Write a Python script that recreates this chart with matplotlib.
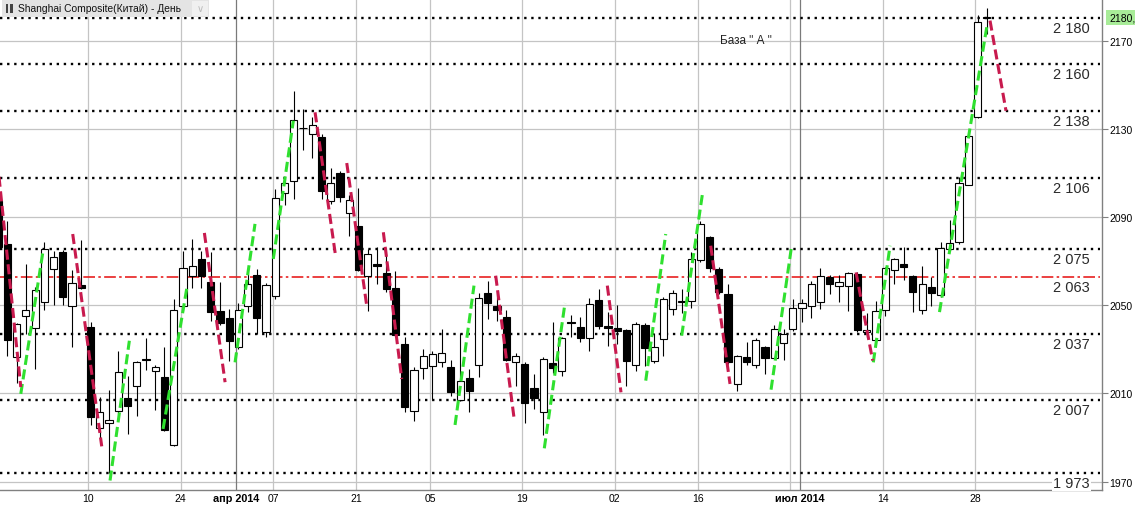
import matplotlib
matplotlib.use('Agg')
import matplotlib.pyplot as plt
from matplotlib.patches import Rectangle

plt.rcParams['font.family'] = ['Liberation Sans', 'DejaVu Sans']

# ---------------- data ----------------
opens = [2097.4, 2077.8, 2026.4, 2045.3, 2039.6, 2051.4, 2066.5, 2074.0, 2049.8, 2059.3,
         2040.2, 1994.2, 1996.5, 2002.2, 2007.8, 2013.3, 2025.3, 2020.3, 2017.3, 1986.8,
         2049.5, 2063.1, 2071.0, 2060.7, 2047.3, 2044.2, 2030.9, 2049.5, 2063.7, 2037.8,
         2054.4, 2100.8, 2106.2, 2130.5, 2127.7, 2126.2, 2097.4, 2109.9, 2091.7, 2085.8,
         2063.1, 2068.7, 2064.5, 2057.7, 2032.5, 2002.2, 2021.4, 2022.3, 2024.4, 2021.9,
         2007.2, 2016.9, 2023.1, 2055.4, 2049.5, 2044.6, 2024.2, 2023.4, 2012.5, 2001.5,
         2024.0, 2020.3, 2042.2, 2040.0, 2035.0, 2052.4, 2040.8, 2039.7, 2038.8, 2022.9,
         2041.2, 2024.9, 2034.6, 2048.3, 2051.5, 2051.8, 2070.7, 2080.8, 2066.5, 2055.1,
         2014.2, 2026.4, 2022.9, 2030.9, 2025.9, 2032.9, 2039.0, 2048.6, 2049.8, 2051.6,
         2062.7, 2058.6, 2058.6, 2064.2, 2037.8, 2034.4, 2048.0, 2066.2, 2068.7, 2063.1,
         2047.7, 2058.2, 2054.7, 2075.5, 2078.6, 2104.7, 2135.3, 2180.8]
highs = [2100.0, 2088.4, 2042.0, 2068.7, 2058.3, 2078.8, 2074.8, 2075.2, 2066.0, 2079.6,
         2042.6, 2008.4, 2011.7, 2029.4, 2018.1, 2024.9, 2035.0, 2022.9, 2030.9, 2052.8,
         2074.5, 2080.1, 2074.5, 2074.0, 2060.4, 2048.3, 2050.9, 2064.0, 2066.5, 2060.0,
         2102.7, 2107.7, 2147.0, 2139.0, 2135.3, 2127.7, 2112.3, 2111.0, 2100.0, 2103.1,
         2075.5, 2076.3, 2075.8, 2065.7, 2035.5, 2022.0, 2030.2, 2029.4, 2039.3, 2025.3,
         2037.4, 2021.1, 2055.6, 2061.2, 2056.6, 2047.9, 2028.4, 2024.3, 2018.8, 2026.5,
         2042.6, 2035.6, 2045.6, 2044.6, 2053.3, 2057.4, 2047.1, 2050.1, 2039.3, 2042.4,
         2042.0, 2037.3, 2053.7, 2056.9, 2057.4, 2074.0, 2088.0, 2081.4, 2067.5, 2059.5,
         2027.5, 2033.2, 2035.0, 2031.5, 2041.1, 2039.0, 2052.8, 2052.8, 2061.2, 2066.9,
         2063.7, 2063.7, 2065.2, 2065.0, 2046.4, 2052.1, 2067.5, 2071.6, 2076.3, 2063.7,
         2068.0, 2062.7, 2078.6, 2088.8, 2108.0, 2127.2, 2181.6, 2184.7]
lows = [2072.0, 2027.1, 2014.6, 2037.0, 2021.1, 2048.0, 2050.1, 2050.1, 2031.2, 2057.4,
        1995.7, 1990.0, 1974.0, 2000.7, 1991.6, 1999.6, 2020.8, 2002.7, 1993.0, 1986.0,
        2048.0, 2057.7, 2057.8, 2043.0, 2041.0, 2024.9, 2030.0, 2046.8, 2037.0, 2035.5,
        2052.9, 2095.5, 2098.2, 2120.6, 2116.9, 2098.2, 2096.0, 2096.7, 2081.6, 2065.5,
        2047.6, 2059.6, 2056.2, 2036.0, 2001.5, 1997.7, 2016.6, 2007.5, 2021.9, 2009.0,
        2006.6, 2001.5, 2017.3, 2043.8, 2043.0, 2024.7, 2013.3, 1996.5, 2003.0, 1991.3,
        2019.2, 2018.1, 2035.5, 2033.5, 2029.4, 2039.3, 2031.7, 2032.5, 2013.3, 2020.3,
        2022.6, 2023.7, 2026.9, 2045.7, 2046.4, 2048.8, 2069.5, 2065.0, 2055.0, 2023.4,
        2011.0, 2023.0, 2021.7, 2018.8, 2025.5, 2025.3, 2038.3, 2042.6, 2044.4, 2048.3,
        2055.1, 2051.4, 2047.6, 2037.8, 2035.5, 2033.8, 2045.3, 2059.7, 2061.6, 2046.8,
        2046.0, 2049.8, 2053.8, 2074.6, 2077.8, 2104.5, 2134.9, 2173.0]
closes = [2076.4, 2034.4, 2041.5, 2047.7, 2056.8, 2075.5, 2071.8, 2053.6, 2060.0, 2057.8,
          1999.5, 2001.5, 1998.0, 2019.6, 2004.5, 2024.1, 2025.8, 2021.9, 1993.6, 2047.9,
          2066.9, 2067.7, 2063.4, 2046.8, 2041.8, 2033.7, 2047.9, 2059.7, 2044.1, 2059.2,
          2098.7, 2105.3, 2134.2, 2130.2, 2131.8, 2101.7, 2105.3, 2099.0, 2097.9, 2066.1,
          2073.1, 2067.7, 2057.4, 2036.7, 2003.7, 2020.7, 2026.9, 2027.9, 2028.4, 2010.5,
          2015.5, 2011.3, 2053.2, 2050.9, 2048.0, 2025.3, 2026.9, 2005.6, 2007.9, 2025.5,
          2021.4, 2035.0, 2041.8, 2035.0, 2050.4, 2040.8, 2039.6, 2038.5, 2024.9, 2041.5,
          2030.5, 2030.9, 2052.8, 2055.4, 2052.0, 2070.8, 2086.7, 2066.8, 2055.9, 2024.2,
          2026.9, 2024.4, 2034.1, 2025.9, 2039.1, 2036.8, 2048.6, 2050.9, 2059.5, 2063.4,
          2059.5, 2060.4, 2064.6, 2038.8, 2038.8, 2047.3, 2067.1, 2071.0, 2067.5, 2055.9,
          2059.5, 2055.4, 2076.0, 2078.4, 2105.3, 2126.6, 2178.3, 2180.4]

# analyst trend segments: (start index, start value, end index, end value)
up_lines = [(2.45, 2009.8, 4.89, 2075.5), (12.11, 1970.5, 14.20, 2033.9),
            (17.85, 1993.9, 20.44, 2058.3), (25.64, 2024.1, 27.80, 2086.9),
            (29.78, 2071.0, 31.95, 2133.7), (49.45, 1995.7, 51.50, 2058.9),
            (59.11, 1985.1, 61.35, 2051.0), (70.09, 2015.8, 72.25, 2082.3),
            (73.98, 2036.2, 76.26, 2101.5), (83.65, 2011.7, 85.89, 2077.3),
            (94.72, 2024.1, 96.53, 2077.0), (101.88, 2046.9, 107.02, 2176.7)]
down_lines = [(0.0, 2112.0, 2.45, 2012.9), (8.07, 2082.3, 11.21, 1986.0),
              (22.32, 2082.8, 24.56, 2015.1), (34.30, 2137.5, 36.54, 2071.8),
              (37.73, 2114.5, 39.89, 2049.8), (41.69, 2083.1, 43.68, 2016.6),
              (53.85, 2063.4, 55.87, 1997.7), (65.93, 2058.9, 67.41, 2010.5),
              (77.12, 2077.0, 79.21, 2014.3), (92.85, 2064.9, 94.65, 2024.9),
              (107.35, 2179.1, 109.08, 2138.2)]

level_values = [2180.5, 2159.5, 2138.0, 2107.5, 2075.5, 2037.0, 2006.8, 1973.8]
level_labels = ["2 180", "2 160", "2 138", "2 106", "2 075", "2 037", "2 007", "1 973"]
pivot_value = 2062.7
pivot_label = "2 063"

tick_candles = [10, 20, 26, 30, 39, 47, 57, 67, 76, 86, 87, 96, 106]
tick_labels = ["10", "24", "апр 2014", "07", "21", "05", "19", "02", "16", "", "июл 2014", "14", "28"]
month_flags = [False, False, True, False, False, False, False, False, False, False, True, False, False]

y_ticks = [1970, 2010, 2050, 2090, 2130, 2170]
last_price = 2180.5
last_price_label = "2180,"
note_text = 'База " А "'
note_pos = (78.1, 2170.3)
title = "Shanghai Composite(Китай) - День"

# ---------------- figure ----------------
W, H = 1135, 506
fig = plt.figure(figsize=(W / 100, H / 100), dpi=100)
fig.patch.set_facecolor('white')
ax = fig.add_axes([0, 15 / H, 1102 / W, 491 / H])
ax.set_xlim(0.2, 119.47)
ax.set_ylim(1966.2, 2188.9)

# grid
for v in y_ticks:
    ax.axhline(v, color='#c4c4c4', lw=0.9, zorder=0)
for pos, month in zip(tick_candles, month_flags):
    ax.axvline(pos - 0.25, color='#7a7a7a' if month else '#c4c4c4', lw=0.9, zorder=0)

# level lines
for v in level_values:
    ax.axhline(v, xmin=0, xmax=0.998, color='black', lw=1.7,
               linestyle=(0, (1, 2.0)), zorder=2)
ax.axhline(pivot_value, xmin=0, xmax=0.998, color='#e82020', lw=1.2,
           linestyle=(0, (7, 2, 1.5, 2)), zorder=2)

# candles
bw = 0.78
for i, (o, h, l, c) in enumerate(zip(opens, highs, lows, closes)):
    ax.plot([i, i], [l, h], color='black', lw=0.8, zorder=3, solid_capstyle='butt')
    up = c >= o
    bottom = min(o, c)
    height = max(abs(c - o), 0.25)
    ax.add_patch(Rectangle((i - bw / 2, bottom), bw, height,
                           facecolor='white' if up else 'black',
                           edgecolor='black', lw=0.8, zorder=4))

# trend lines
for x0, y0, x1, y1 in up_lines:
    ax.plot([x0, x1], [y0, y1], color='#2fe02f', lw=2.2,
            linestyle=(0, (3.3, 1.5)), zorder=5)
for x0, y0, x1, y1 in down_lines:
    ax.plot([x0, x1], [y0, y1], color='#c81a4e', lw=2.2,
            linestyle=(0, (3.3, 1.5)), zorder=5)

# level labels
for v, lab in list(zip(level_values, level_labels)) + [(pivot_value, pivot_label)]:
    ax.annotate(lab, xy=(0.989, v), xycoords=('axes fraction', 'data'),
                xytext=(0, -7.2), textcoords='offset points', ha='right', va='center',
                fontsize=10.5, color='#2a2a2a',
                bbox=dict(boxstyle='square,pad=0.08', fc='white', ec='none'), zorder=6)

ax.text(note_pos[0], note_pos[1], note_text, fontsize=8.5, color='#222222',
        ha='left', va='center', zorder=6)

# axes styling
for s in ['top', 'left']:
    ax.spines[s].set_visible(False)
for s in ['right', 'bottom']:
    ax.spines[s].set_color('#808080')
    ax.spines[s].set_linewidth(1.0)
ax.yaxis.tick_right()
ax.set_yticks(y_ticks)
ax.set_yticklabels([str(v) for v in y_ticks])
ax.tick_params(axis='y', direction='out', length=4, width=0.8, color='#808080',
               labelsize=7.5, pad=1, labelcolor='black')
ax.set_xticks([p - 0.25 for p in tick_candles])
ax.set_xticklabels(tick_labels)
ax.tick_params(axis='x', length=0, labelsize=7.5, pad=2.5, labelcolor='black')
for lbl, month in zip(ax.get_xticklabels(), month_flags):
    if month:
        lbl.set_fontweight('bold')
        lbl.set_fontsize(7.8)

# current price marker
ax.annotate(last_price_label, xy=(1.0, last_price), xycoords=('axes fraction', 'data'),
            xytext=(5, 0), textcoords='offset points', ha='left', va='center',
            fontsize=7.5, color='black', annotation_clip=False,
            bbox=dict(boxstyle='square,pad=0.25', fc='#a8ec98', ec='none'))

# title box
ax.add_patch(Rectangle((0.002, 1 - 18 / 491), 0.188, 17 / 491, transform=ax.transAxes,
                       facecolor='#e4e4e4', edgecolor='none', zorder=7))
ax.add_patch(Rectangle((0.174, 1 - 17 / 491), 0.015, 15 / 491, transform=ax.transAxes,
                       facecolor='#f0f0f0', edgecolor='none', zorder=7))
ax.text(0.0165, 1 - 9.5 / 491, title, transform=ax.transAxes, fontsize=7.4,
        ha='left', va='center', color='#111111', zorder=8)
ax.text(0.1815, 1 - 9.5 / 491, '∨', transform=ax.transAxes, fontsize=7,
        ha='center', va='center', color='#bbbbbb', zorder=8)
ax.add_patch(Rectangle((0.005, 1 - 14 / 491), 0.0025, 9 / 491, transform=ax.transAxes,
                       facecolor='#444444', edgecolor='none', zorder=8))
ax.add_patch(Rectangle((0.0095, 1 - 14 / 491), 0.0025, 9 / 491, transform=ax.transAxes,
                       facecolor='#444444', edgecolor='none', zorder=8))

fig.savefig('out.png', dpi=100, facecolor='white')
